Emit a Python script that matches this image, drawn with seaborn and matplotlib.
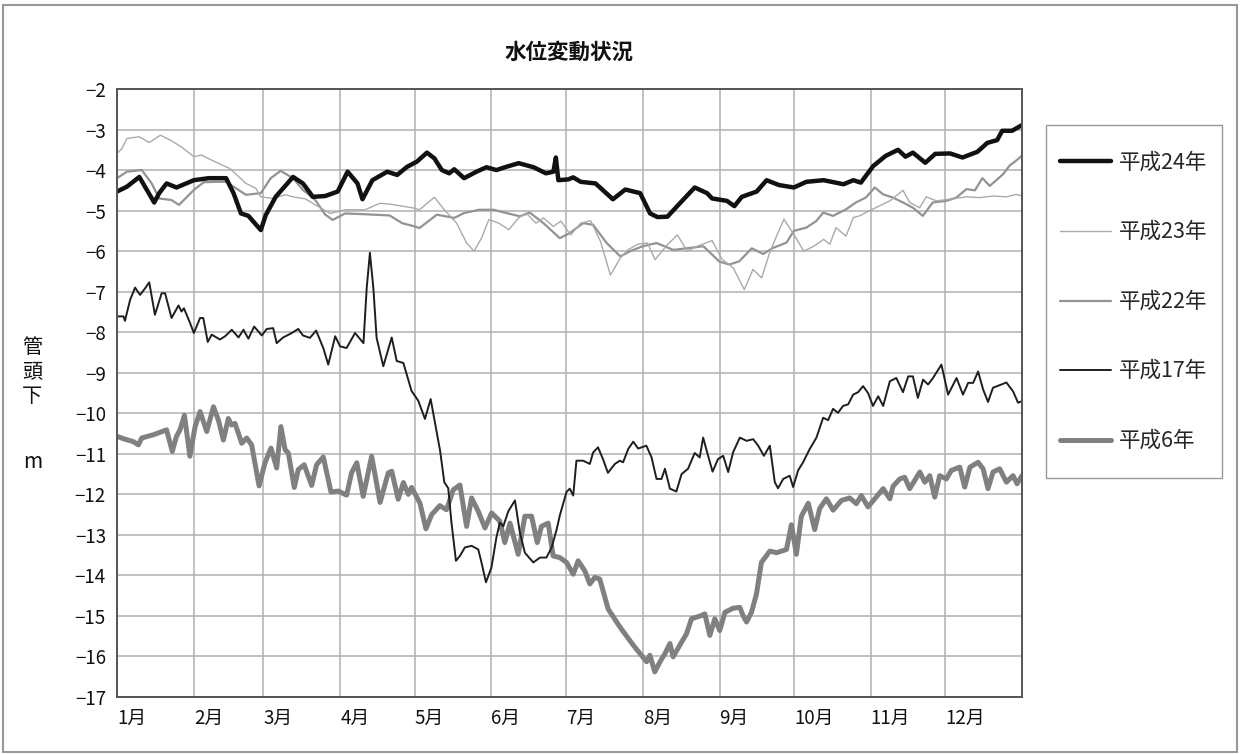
# --------------------------------------------
# 水位変動状況  (water level, 5 years)
# --------------------------------------------

import numpy as np
import pandas as pd
import matplotlib
matplotlib.use("Agg")
import matplotlib.pyplot as plt
import seaborn as sns
from matplotlib.patches import Rectangle

# --------------------------------------------
# DATA  (day of year, level below pipe head in m)
# --------------------------------------------

month_labels = ["1月", "2月", "3月", "4月", "5月", "6月",
                "7月", "8月", "9月", "10月", "11月", "12月"]
month_starts = [0, 31, 59, 90, 120, 151, 181, 212, 243, 273, 304, 334]

series_names = ["平成24年", "平成23年", "平成22年", "平成17年", "平成6年"]

days_h24 = [0, 4, 9, 15, 17, 20, 24, 31, 37, 44, 47, 50, 53, 58, 60, 64, 71, 75, 79, 84,
            89, 93, 97, 99, 103, 109, 113, 117, 121, 125, 128, 131, 134, 136, 140, 145, 149, 153, 157, 162,
            168, 173, 176, 177, 178, 182, 184, 187, 193, 200, 205, 211, 215, 218, 222, 227, 233, 238, 240, 246,
            249, 252, 258, 262, 267, 273, 278, 285, 293, 297, 300, 305, 310, 315, 318, 321, 326, 330, 336, 341,
            347, 351, 355, 357, 361, 365]
vals_h24 = [-4.53, -4.41, -4.17, -4.8, -4.57, -4.33, -4.43, -4.25, -4.2, -4.2,
            -4.57, -5.07, -5.13, -5.48, -5.11, -4.66, -4.17, -4.33, -4.66, -4.64,
            -4.53, -4.04, -4.33, -4.72, -4.25, -4.04, -4.12, -3.92, -3.79, -3.57,
            -3.71, -4.0, -4.08, -3.98, -4.2, -4.04, -3.93, -4.0, -3.92, -3.83,
            -3.93, -4.08, -4.04, -3.69, -4.25, -4.23, -4.18, -4.29, -4.33, -4.72,
            -4.48, -4.57, -5.07, -5.16, -5.15, -4.82, -4.43, -4.57, -4.7, -4.76,
            -4.89, -4.66, -4.53, -4.25, -4.37, -4.43, -4.29, -4.25, -4.35, -4.25,
            -4.31, -3.9, -3.65, -3.5, -3.67, -3.57, -3.82, -3.6, -3.59, -3.69,
            -3.55, -3.33, -3.26, -3.03, -3.03, -2.89]

days_h23 = [0, 2, 4, 9, 13, 17.5, 21.5, 26, 31, 34, 38, 42.5, 45.5, 49, 52, 56, 58, 63, 68, 71,
            76, 80, 86, 92, 100, 106, 110, 116, 120, 122, 128, 132, 137, 141, 144, 147, 150, 154, 158, 162,
            165, 169, 172, 176, 179, 183, 187, 191, 195, 199, 203, 206, 210, 214, 217, 222, 226, 230, 234, 240,
            244, 248.5, 253, 256.5, 260, 263, 266, 269, 273, 277, 281, 285, 287.5, 290, 294, 297, 299.5, 303.6,
            307.6, 311.7, 317, 319.7, 323.7, 326.4, 330.5, 335.8, 342.6, 348, 353.3, 358.7, 362.7, 365]
vals_h23 = [-3.59, -3.47, -3.22, -3.18, -3.32, -3.14, -3.26, -3.43, -3.67, -3.63,
            -3.75, -3.88, -3.96, -4.16, -4.33, -4.45, -4.66, -4.7, -4.61, -4.66,
            -4.71, -4.86, -5.07, -4.98, -4.98, -4.82, -4.84, -4.9, -4.94, -4.98,
            -4.67, -4.98, -5.31, -5.8, -6.0, -5.68, -5.22, -5.31, -5.47, -5.18,
            -5.06, -5.31, -5.18, -5.39, -5.26, -5.6, -5.31, -5.25, -5.76, -6.59,
            -6.17, -5.97, -5.83, -5.8, -6.21, -5.84, -5.6, -6.0, -5.88, -5.74,
            -6.2, -6.41, -6.95, -6.45, -6.66, -6.08, -5.63, -5.21, -5.59, -6.0,
            -5.88, -5.71, -5.83, -5.42, -5.63, -5.17, -5.13, -5.0, -4.88, -4.76,
            -4.5, -4.8, -4.93, -4.66, -4.76, -4.72, -4.66, -4.68, -4.64, -4.66,
            -4.6, -4.64]

days_h22 = [0, 4, 10, 14, 17, 22, 25, 31, 35, 40, 44, 47, 52, 58, 62, 66, 71, 75, 80, 84,
            87, 92, 100, 110, 115, 120, 122, 129, 136, 140, 146, 152, 157, 162.5, 166.5, 172, 178.6, 182.7, 188, 192,
            197.5, 203, 207, 212, 217.6, 224.4, 229.7, 236.5, 243, 247, 251, 256, 260.6, 264.6, 270, 273, 278, 282,
            284.8, 288.8, 294, 298, 302, 305.6, 309, 313, 317, 321, 325, 329, 334.5, 338.5, 342.6, 346, 349, 352,
            357.4, 360, 363.4, 365]
vals_h22 = [-4.2, -4.04, -4.0, -4.33, -4.7, -4.74, -4.86, -4.49, -4.3, -4.29,
            -4.29, -4.41, -4.61, -4.57, -4.2, -4.02, -4.2, -4.49, -4.74, -5.1,
            -5.23, -5.07, -5.09, -5.12, -5.31, -5.39, -5.43, -5.1, -5.18, -5.06,
            -4.98, -4.98, -5.06, -5.14, -5.05, -5.31, -5.68, -5.55, -5.31, -5.35,
            -5.8, -6.13, -6.0, -5.88, -5.8, -5.97, -5.93, -5.88, -6.26, -6.33,
            -6.25, -5.93, -6.07, -5.92, -5.79, -5.5, -5.42, -5.26, -5.05, -5.13,
            -4.97, -4.8, -4.68, -4.43, -4.6, -4.68, -4.8, -4.93, -5.13, -4.8,
            -4.76, -4.68, -4.47, -4.5, -4.2, -4.39, -4.1, -3.89, -3.73, -3.64]

days_h17 = [0, 2.6, 3.2, 5.3, 7.3, 9.3, 11.3, 13, 15.3, 18, 19.4, 22, 24.8, 26, 27, 29.5, 31, 33.5, 34.8, 36.6,
            38.2, 41.5, 43.6, 46.3, 49, 51, 53, 55.3, 58.4, 60.4, 63, 64.4, 67, 70.5, 73.1, 75, 77.8, 80.3, 83.2, 85.2,
            88, 90, 92.6, 96, 99.4, 100.7, 102, 103.4, 104.7, 107.4, 110.8, 112.8, 115.5, 118.8, 121.5, 124.2, 126.5,
            130.3, 132, 133.6, 134.9, 136.7, 138.3, 140.3, 143, 145.7, 147, 148.8, 151, 153, 154.4, 155.8, 157.8,
            160.5, 162.5, 164.5, 167.9, 170.6, 173.2, 175.3, 177.3, 178.6, 181.3, 182.6, 184, 185.3, 188, 190.7,
            192, 194, 196, 198, 200.8, 202.8, 204.1, 206.2, 208.2, 210.2, 213.5, 215.6, 217.6, 219.6, 221, 223,
            225.6, 227.7, 230.3, 233, 235, 236.4, 238.4, 240.2, 242.4, 244.5, 246.5, 248.5, 251.2, 253.9, 256.6,
            258.6, 260.9, 263.3, 265.3, 266.6, 268.7, 271.3, 272.7, 274.7, 276.7, 279.4, 282.1, 284.8, 286.8,
            288.8, 290.8, 292.8, 294.9, 296.9, 298.9, 300.9, 302.9, 304.9, 307, 309, 311.7, 314.3, 317, 319.1,
            321, 323, 325.1, 327.1, 329.1, 332.5, 335.2, 338.6, 341.2, 343.3, 345.3, 347.3, 349.3, 351.3, 353.3,
            356.7, 358.7, 361.4, 363.4, 365]
vals_h17 = [-7.61, -7.61, -7.72, -7.2, -6.9, -7.08, -6.92, -6.77, -7.57, -7.04, -7.04, -7.65, -7.34, -7.49, -7.41,
            -7.78, -8.02, -7.65, -7.65, -8.24,
            -8.06, -8.18, -8.1, -7.94, -8.13, -7.94, -8.16, -7.86, -8.08, -7.92, -7.9, -8.27, -8.13, -8.02, -7.92,
            -8.08, -8.14, -7.96, -8.39, -8.8,
            -8.1, -8.35, -8.39, -8.02, -8.27, -6.92, -6.04, -6.92, -8.14, -8.84, -8.13, -8.71, -8.76, -9.45, -9.69,
            -10.14, -9.65,
            -10.92, -11.7, -11.85, -12.7, -13.64, -13.52, -13.31, -13.27, -13.36, -13.68, -14.17, -13.81, -13.07,
            -12.7, -12.79, -12.42,
            -12.15, -12.95, -13.44, -13.68, -13.56, -13.56, -13.31, -12.87, -12.52, -11.94, -11.86, -12.03, -11.17,
            -11.17, -11.25,
            -10.97, -10.84, -11.13, -11.47, -11.25, -11.17, -11.21, -10.88, -10.7, -10.87, -10.8, -11.09, -11.62,
            -11.62, -11.37, -11.86,
            -11.93, -11.5, -11.37, -10.98, -11.09, -10.6, -11.05, -11.44, -11.13, -11.05, -11.45, -10.96, -10.6,
            -10.68, -10.64,
            -10.8, -11.05, -10.8, -11.7, -11.85, -11.62, -11.54, -11.82, -11.41, -11.21, -10.88, -10.6, -10.11,
            -10.17,
            -9.89, -9.99, -9.82, -9.78, -9.54, -9.48, -9.33, -9.5, -9.82, -9.58, -9.82, -9.21, -9.13, -9.48, -9.09,
            -9.09, -9.62, -9.17, -9.29, -9.13, -8.8, -9.54, -9.13, -9.54, -9.25, -9.25, -8.97, -9.41, -9.72, -9.37,
            -9.29, -9.24, -9.46, -9.74, -9.7]

days_h6 = [0, 3.2, 6.6, 8.6, 10, 14.7, 20, 22.3, 24, 25.4, 27.2, 29.4, 31.5, 33.5, 36.2, 38.9, 40.9, 42.9, 44.9,
           46.2, 47.6, 50.3, 52.3, 54.3, 57.3, 59.7, 62.1, 64.4, 66.1, 67.8, 69.1, 71.5, 73.1, 75.5, 78.5, 80.5,
           83.2, 86.3, 89.3, 92.6, 94.6, 96.7, 99.3, 102.7, 106.1, 109.4, 110.8, 113.4, 115.5, 117.5, 118.8,
           122.2, 124.6, 126.9, 130.2, 132.9, 135.6, 138.3, 141, 143, 145.7, 148.4, 151.1, 154.4, 156.4, 158.5,
           161.8, 164.5, 167.2, 169.5, 171.2, 173.9, 175.9, 178.6, 181.3, 184, 186, 188.7, 190.7, 192.7, 194.7,
           198.1, 202.8, 208.2, 213.6, 214.9, 216.9, 219, 221, 223, 224.3, 227, 229.7, 231.7, 235.7, 237.1, 239.1,
           241.1, 243.1, 245.2, 248.5, 251.2, 252.5, 253.9, 255.9, 257.9, 259.9, 263.3, 266, 270, 272, 274, 276,
           278.8, 281.4, 283.4, 286.1, 288.8, 292.2, 295.5, 298.2, 300.2, 302.9, 305.6, 309, 311.7, 313, 315.7,
           317.7, 319.7, 323.8, 325.8, 327.8, 329.8, 331.8, 334.5, 336.5, 339.9, 341.9, 344, 347.3, 349.3, 351.3,
           353.3, 356, 358.7, 361.4, 363, 365]
vals_h6 = [-10.57, -10.64, -10.7, -10.78, -10.61, -10.53, -10.41, -10.94, -10.57, -10.41, -10.05, -11.06, -10.33,
           -9.96, -10.45, -9.84, -10.17, -10.66, -10.13,
           -10.29, -10.25, -10.74, -10.61, -10.78, -11.79, -11.22, -10.86, -11.35, -10.33, -10.9, -10.98, -11.83,
           -11.39, -11.27, -11.78, -11.27,
           -11.08, -11.94, -11.92, -12.02, -11.47, -11.22, -12.05, -11.06, -12.2, -11.47, -11.43, -12.12, -11.71,
           -12.0, -11.83,
           -12.22, -12.85, -12.5, -12.28, -12.38, -11.89, -11.77, -12.79, -12.09, -12.42, -12.83, -12.46, -12.66,
           -13.19, -12.71,
           -13.48, -12.54, -12.54, -13.19, -12.79, -12.71, -13.52, -13.56, -13.68, -13.97, -13.64, -13.89, -14.21,
           -14.05, -14.09,
           -14.83, -15.27, -15.72, -16.13, -15.97, -16.38, -16.13, -15.93, -15.68, -16.01, -15.72, -15.44, -15.07,
           -14.99, -14.95, -15.48,
           -15.07, -15.36, -14.91, -14.81, -14.79, -14.99, -15.15, -14.91, -14.46, -13.68, -13.4, -13.44, -13.36,
           -12.75, -13.48, -12.54,
           -12.22, -12.87, -12.35, -12.11, -12.39, -12.15, -12.09, -12.23, -12.03, -12.31, -12.11, -11.86, -12.11,
           -11.8, -11.62,
           -11.58, -11.86, -11.45, -11.7, -11.54, -12.07, -11.54, -11.62, -11.41, -11.33, -11.82, -11.33, -11.21,
           -11.37, -11.86,
           -11.45, -11.37, -11.7, -11.54, -11.74, -11.54]

# --------------------------------------------
# STYLE
# --------------------------------------------

sns.set_theme(style="whitegrid")
plt.rcParams['font.family'] = ['Noto Sans CJK JP', 'DejaVu Sans']

styles = {
    "平成24年": ("#111111", 3.2),
    "平成23年": ("#aaaaaa", 1.0),
    "平成22年": ("#939393", 1.6),
    "平成17年": ("#1e1e1e", 1.4),
    "平成6年": ("#808080", 3.6),
}

series = {
    "平成24年": (days_h24, vals_h24),
    "平成23年": (days_h23, vals_h23),
    "平成22年": (days_h22, vals_h22),
    "平成17年": (days_h17, vals_h17),
    "平成6年": (days_h6, vals_h6),
}

fig = plt.figure(figsize=(12.43, 7.54), dpi=100)
ax = fig.add_axes([117 / 1243, 1 - 697 / 754, (1022 - 117) / 1243, (697 - 89) / 754])

# draw bottom series first so the upper ones sit on top
draw_order = ["平成6年", "平成17年", "平成22年", "平成23年", "平成24年"]
for name in draw_order:
    d, v = series[name]
    df = pd.DataFrame({"day": d, "level": v})
    color, lw = styles[name]
    sns.lineplot(data=df, x="day", y="level", ax=ax, color=color,
                 linewidth=lw, label=name, legend=False)

# --------------------------------------------
# AXES
# --------------------------------------------

ax.set_xlim(0, 365)
ax.set_ylim(-17, -2)
ax.set_yticks(np.arange(-17, -1, 1))
ax.set_xticks(month_starts)
ax.set_xticklabels(month_labels, ha="left")
ax.set_xlabel("")
ax.set_ylabel("")
ax.tick_params(axis="both", length=0, labelsize=13.5, colors="#111111")
ax.tick_params(axis="y", pad=8)
ax.tick_params(axis="x", pad=8)
ax.grid(True, color="#b0b0b0", linewidth=1.1)
for s in ax.spines.values():
    s.set_color("#555555")
    s.set_linewidth(1.4)

fig.text(569 / 1243, 1 - 52 / 754, "水位変動状況", ha="center", va="center",
         fontsize=15.5, fontweight="bold", color="#111111")

fig.text(32 / 1243, 1 - 372 / 754, "管\n頭\n下", ha="center", va="center",
         fontsize=14.5, linespacing=1.2, color="#111111")
fig.text(33 / 1243, 1 - 462 / 754, "m", ha="center", va="center",
         fontsize=15, color="#111111")

# --------------------------------------------
# LEGEND
# --------------------------------------------

handles, labels = ax.get_legend_handles_labels()
order = [labels.index(n) for n in series_names]
leg = fig.legend([handles[i] for i in order], [labels[i] for i in order],
                 loc="upper left", bbox_to_anchor=(1046 / 1243, 1 - 125 / 754),
                 fontsize=15.5, labelspacing=1.09, handlelength=2.35,
                 handleheight=2.92, handletextpad=0.4, borderpad=0.65,
                 borderaxespad=0, fancybox=False,
                 framealpha=1, edgecolor="#999999")
leg.get_frame().set_linewidth(1.0)

# move the sample lines down so they sit level with the text
for ln in leg.get_lines():
    ln.set_ydata(np.asarray(ln.get_ydata()) - 5.6)

# outer border of the picture
fig.patches.append(Rectangle((3 / 1243, 2 / 754), 1234 / 1243, 747 / 754,
                             transform=fig.transFigure, fill=False,
                             edgecolor="#999999", linewidth=1.5))

fig.savefig("out.png", dpi=100)
